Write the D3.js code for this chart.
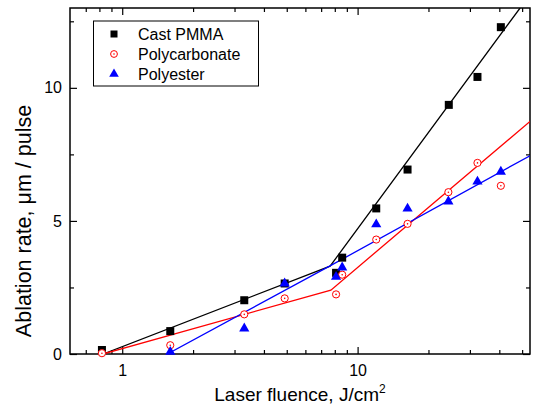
<!DOCTYPE html>
<html>
<head>
<meta charset="utf-8">
<script src="https://cdn.jsdelivr.net/npm/d3@7"></script>
<style>
  body { margin: 0; background: #fff; }
  svg text { font-family: "Liberation Sans", Arial, sans-serif; fill: #000; }
</style>
</head>
<body>
<svg id="chart" width="533" height="406"></svg>
<script>
// measured points, fluence in J/cm2, rate in um/pulse
const pmmaF = [0.82, 1.6, 3.3, 4.9, 8.1, 8.6, 12, 16.3, 24.4, 32.3, 40.6];
const pmmaR = [0.15, 0.86, 2.02, 2.65, 3.05, 3.62, 5.47, 6.93, 9.36, 10.41, 12.28];

const pcF = [0.82, 1.6, 3.3, 4.9, 8.1, 8.6, 12, 16.3, 24.3, 32.3, 40.6];
const pcR = [0.03, 0.33, 1.49, 2.09, 2.24, 2.98, 4.3, 4.89, 6.08, 7.18, 6.32];

const pesF = [1.6, 3.3, 4.9, 8.1, 8.6, 12, 16.3, 24.3, 32.3, 40.6];
const pesR = [0.08, 0.96, 2.65, 2.9, 3.25, 4.87, 5.46, 5.73, 6.48, 6.85];

// fitted lines (straight in log fluence), knots
const pmmaFitF = [0.83, 7.64, 49];
const pmmaFitR = [0, 3.3, 13];
const pcFitF = [0.83, 7.7, 54];
const pcFitR = [0, 2.4, 8.74];
const pesFitF = [1.555, 7.6, 54];
const pesFitR = [0, 3.3, 7.45];

const xMajor = [1, 10];
const xMinor = [0.7, 0.8, 0.9, 2, 3, 4, 5, 6, 7, 8, 9, 20, 30, 40, 50];
const yMajor = [0, 5, 10];
const yMinor = [2.5, 7.5, 12.5];

const zip = (a, b) => a.map((v, i) => [v, b[i]]);

const svg = d3.select("#chart");
const frame = { left: 70, right: 530, top: 8, bottom: 354 };

const x = d3.scaleLog().domain([0.6, 54]).range([frame.left, frame.right]);
const y = d3.scaleLinear().domain([0, 13]).range([frame.bottom, frame.top]);

svg.append("defs").append("clipPath").attr("id", "plot-clip")
  .append("rect")
  .attr("x", frame.left).attr("y", frame.top)
  .attr("width", frame.right - frame.left).attr("height", frame.bottom - frame.top);

// axes, ticks point inward on all four sides
const addAxis = (gen, tr, vals, size, labels) => {
  const g = svg.append("g").attr("class", "axis")
    .attr("transform", tr)
    .call(gen.tickValues(vals).tickSize(-size).tickPadding(8)
      .tickFormat(labels ? d3.format("d") : ""));
  g.select(".domain").remove();
  g.selectAll(".tick line").attr("stroke", "#000").attr("stroke-width", 1.2);
  g.selectAll(".tick text").style("font-size", "16px");
  return g;
};

const xAxisLab = addAxis(d3.axisBottom(x), `translate(0,${frame.bottom})`, xMajor, 7, true);
xAxisLab.selectAll(".tick text").attr("y", 11);
addAxis(d3.axisBottom(x), `translate(0,${frame.bottom})`, xMinor, 4, false);
addAxis(d3.axisTop(x), `translate(0,${frame.top})`, xMajor, 7, false);
addAxis(d3.axisTop(x), `translate(0,${frame.top})`, xMinor, 4, false);
addAxis(d3.axisLeft(y), `translate(${frame.left},0)`, yMajor, 7, true);
addAxis(d3.axisLeft(y), `translate(${frame.left},0)`, yMinor, 4, false);
addAxis(d3.axisRight(y), `translate(${frame.right},0)`, yMajor, 7, false);
addAxis(d3.axisRight(y), `translate(${frame.right},0)`, yMinor, 4, false);

svg.append("rect")
  .attr("x", frame.left).attr("y", frame.top)
  .attr("width", frame.right - frame.left).attr("height", frame.bottom - frame.top)
  .attr("fill", "none").attr("stroke", "#000").attr("stroke-width", 1.5);

// fit lines
const line = d3.line().x(d => x(d[0])).y(d => y(d[1]));
const fits = [
  { pts: zip(pmmaFitF, pmmaFitR), color: "#000" },
  { pts: zip(pcFitF, pcFitR), color: "#ff0000" },
  { pts: zip(pesFitF, pesFitR), color: "#0000ff" }
];
svg.append("g").attr("clip-path", "url(#plot-clip)")
  .selectAll("path").data(fits).join("path")
  .attr("d", d => line(d.pts))
  .attr("fill", "none")
  .attr("stroke", d => d.color)
  .attr("stroke-width", 1.3);

// markers
const drawSquare = (g, s) => g.append("rect")
  .attr("x", -s / 2).attr("y", -s / 2).attr("width", s).attr("height", s).attr("fill", "#000");
const drawCircle = (g, r) => {
  g.append("circle").attr("r", r).attr("fill", "#fff").attr("stroke", "#ff0000").attr("stroke-width", 1);
  g.append("circle").attr("r", 0.8).attr("fill", "#ff0000");
};
const drawTri = (g, s) => g.append("path")
  .attr("d", d3.symbol(d3.symbolTriangle, s)()).attr("fill", "#0000ff");

const pts = svg.append("g");
pts.selectAll(".sq").data(zip(pmmaF, pmmaR)).join("g").attr("class", "sq")
  .attr("transform", d => `translate(${x(d[0])},${y(d[1])})`)
  .each(function() { drawSquare(d3.select(this), 8); });
pts.selectAll(".ci").data(zip(pcF, pcR)).join("g").attr("class", "ci")
  .attr("transform", d => `translate(${x(d[0])},${y(d[1])})`)
  .each(function() { drawCircle(d3.select(this), 3.6); });
pts.selectAll(".tr").data(zip(pesF, pesR)).join("g").attr("class", "tr")
  .attr("transform", d => `translate(${x(d[0])},${y(d[1])})`)
  .each(function() { drawTri(d3.select(this), 45); });

// legend
const legend = svg.append("g");
legend.append("rect")
  .attr("x", 93.5).attr("y", 21).attr("width", 165).attr("height", 65)
  .attr("fill", "#fff").attr("stroke", "#000").attr("stroke-width", 1);
const legItems = ["Cast PMMA", "Polycarbonate", "Polyester"];
legItems.forEach((name, i) => {
  const row = legend.append("g").attr("transform", `translate(114,${34 + i * 20})`);
  if (i === 0) drawSquare(row, 7);
  if (i === 1) drawCircle(row, 3.4);
  if (i === 2) drawTri(row, 40);
  row.append("text").attr("x", 24).attr("dy", "0.36em")
    .style("font-size", "16px").text(name);
});

// axis titles
const xt = svg.append("text")
  .attr("x", 300).attr("y", 401)
  .attr("text-anchor", "middle")
  .style("font-size", "19px");
xt.append("tspan").text("Laser fluence, J/cm");
xt.append("tspan").attr("dy", -8).style("font-size", "12px").text("2");

svg.append("text")
  .attr("transform", "translate(31,221) rotate(-90)")
  .attr("text-anchor", "middle")
  .style("font-size", "21.5px")
  .text("Ablation rate, \u03bcm / pulse");
</script>
</body>
</html>
